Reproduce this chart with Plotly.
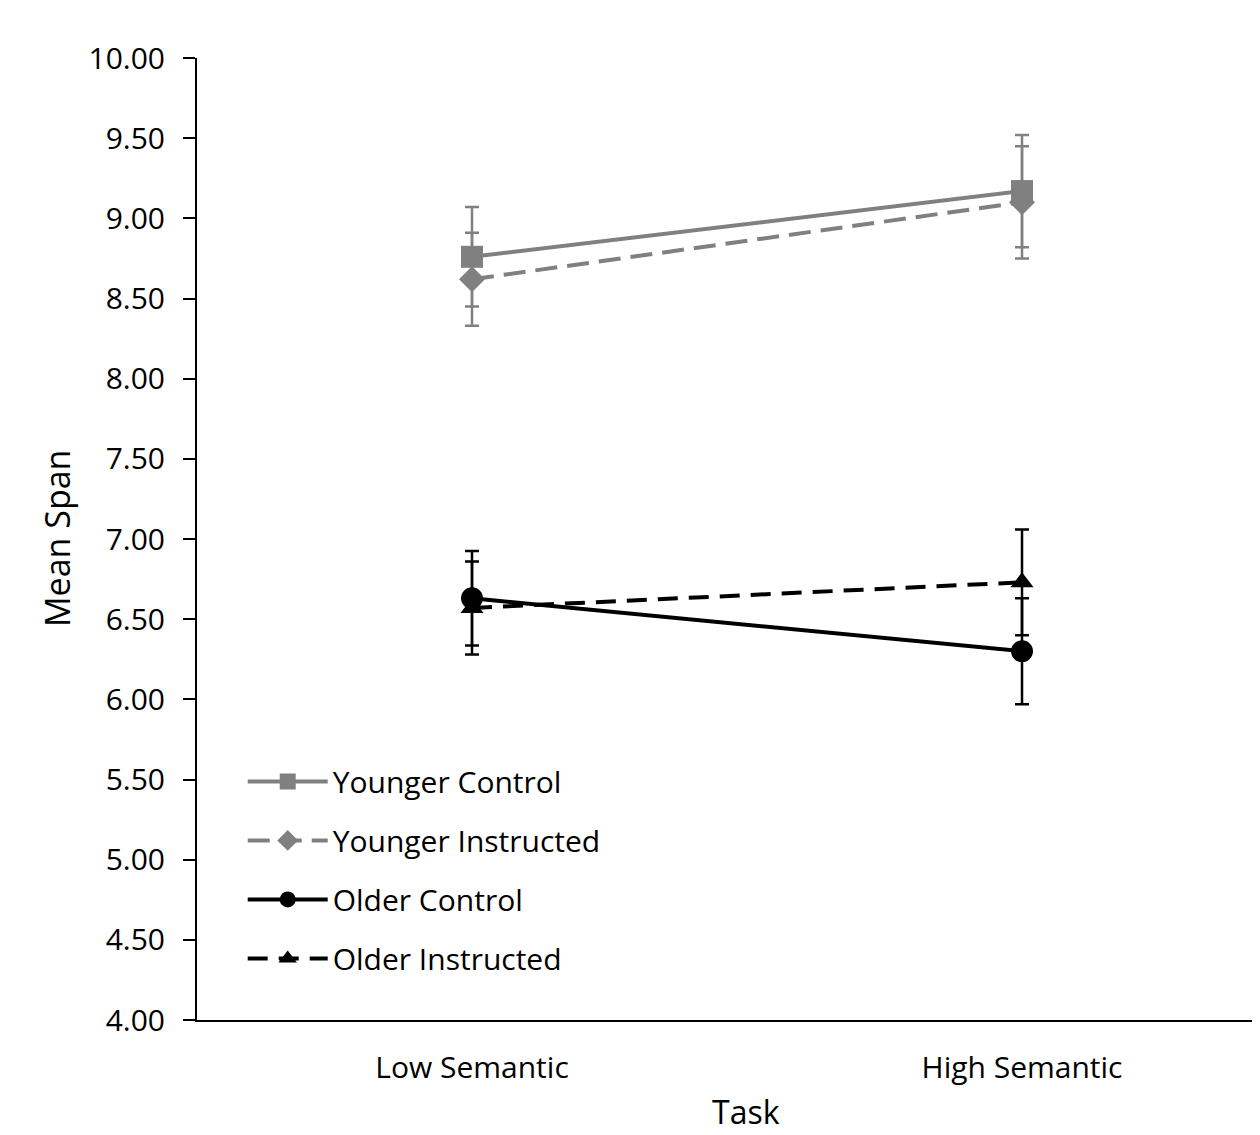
import plotly.graph_objects as go

categories = ["Low Semantic", "High Semantic"]
series_names = ["Younger Control", "Younger Instructed", "Older Control", "Older Instructed"]
younger_control = [8.76, 9.17]
younger_control_err = [0.31, 0.35]
younger_instructed = [8.62, 9.10]
younger_instructed_err = [0.29, 0.35]
older_control = [6.63, 6.30]
older_control_err = [0.295, 0.33]
older_instructed = [6.57, 6.73]
older_instructed_err = [0.29, 0.33]
y_ticks = [4.0, 4.5, 5.0, 5.5, 6.0, 6.5, 7.0, 7.5, 8.0, 8.5, 9.0, 9.5, 10.0]

GRAY = "#808080"
BLACK = "#000000"
FONT = "Open Sans"

styles = [
    dict(color=GRAY, dash="solid", symbol="square", size=22),
    dict(color=GRAY, dash="22px,10px", symbol="diamond", size=20),
    dict(color=BLACK, dash="solid", symbol="circle", size=22),
    dict(color=BLACK, dash="20px,11px", symbol="triangle-up", size=20),
]
values = [younger_control, younger_instructed, older_control, older_instructed]
errors = [younger_control_err, younger_instructed_err, older_control_err, older_instructed_err]

fig = go.Figure()
for name, vals, errs, st in zip(series_names, values, errors, styles):
    fig.add_trace(go.Scatter(
        x=categories, y=vals, name=name, legendgroup=name,
        mode="lines+markers",
        line=dict(color=st["color"], width=4, dash=st["dash"]),
        marker=dict(color=st["color"], symbol=st["symbol"], size=st["size"]),
        error_y=dict(type="data", array=errs, visible=True, color=st["color"], thickness=2.5, width=7),
    ))

fig.update_layout(
    width=1252, height=1127,
    margin=dict(l=189, r=0, t=50, b=115),
    paper_bgcolor="white", plot_bgcolor="white",
    font=dict(family=FONT, size=30, color="#000000"),
    showlegend=True,
    legend=dict(
        x=0.043, y=0.275, xanchor="left", yanchor="top",
        bgcolor="rgba(0,0,0,0)", font=dict(size=30),
        itemwidth=80, traceorder="grouped", tracegroupgap=17,
    ),
)
fig.update_xaxes(
    type="category", range=[-0.5, 1.4327],
    showline=True, linecolor="black", linewidth=2,
    showgrid=False, zeroline=False, ticks="",
    tickfont=dict(size=30), ticklabelstandoff=20,
)
fig.update_yaxes(
    range=[4, 10], tickvals=y_ticks, tickformat=".2f",
    showline=True, linecolor="black", linewidth=2,
    showgrid=False, zeroline=False,
    ticks="outside", ticklen=12, tickwidth=2, tickcolor="black",
    tickfont=dict(size=30), ticklabelstandoff=12,
)
fig.add_annotation(text="Mean Span", xref="paper", yref="paper", x=-0.1317, y=0.5,
                   xanchor="center", yanchor="middle", textangle=-90, showarrow=False,
                   font=dict(size=34))
fig.add_annotation(text="Task", xref="paper", yref="paper", x=0.5163, y=-0.0956,
                   xanchor="center", yanchor="middle", showarrow=False,
                   font=dict(size=32))

fig.write_html("out.html")
